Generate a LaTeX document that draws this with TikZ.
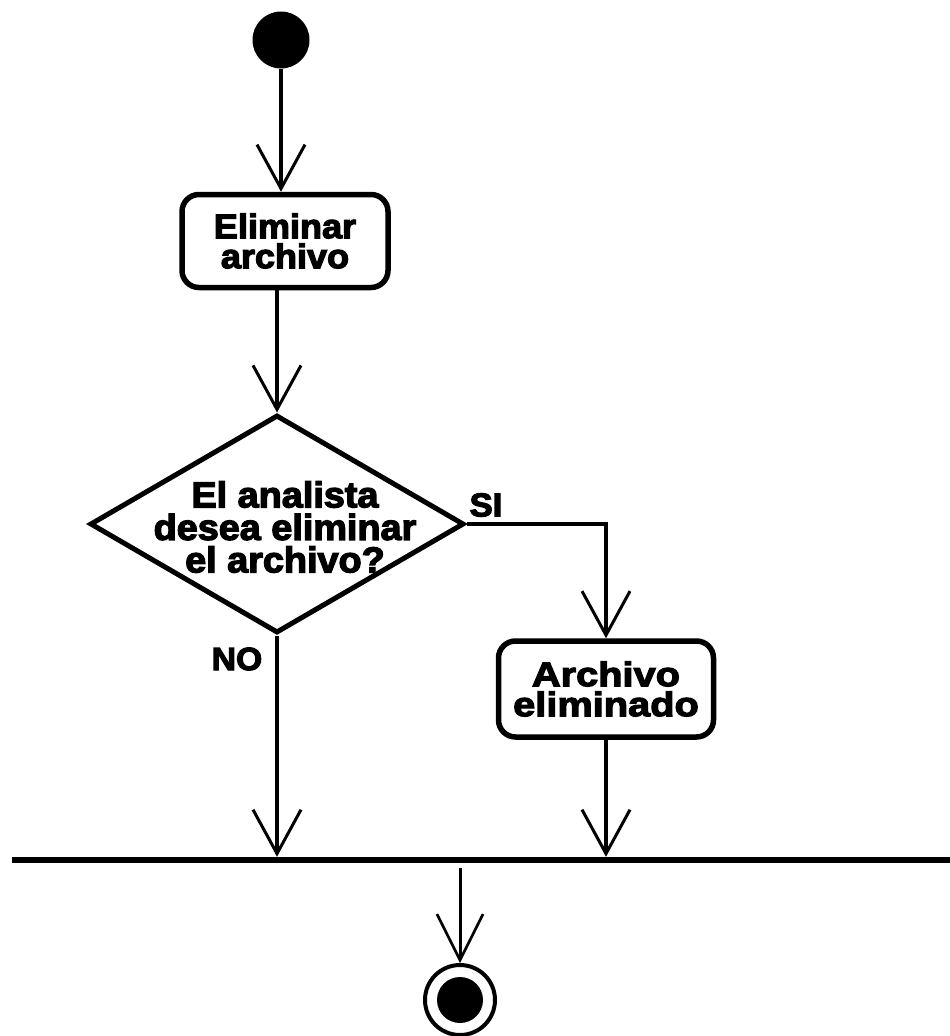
\documentclass[tikz,border=0pt]{standalone}
\usepackage{fontspec}
\setmainfont{Liberation Sans}[FakeBold=3.6,FakeStretch=1.05]
\newfontfamily\elimfont{Liberation Sans}[FakeBold=3.6,FakeStretch=1.06]
\newfontfamily\archfont{Liberation Sans}[FakeBold=3.6,FakeStretch=1.17]
\usetikzlibrary{arrows.meta,shapes.geometric}
\begin{document}
\begin{tikzpicture}[x=1pt,y=-1pt,
  every node/.style={font=\bfseries\fontsize{36}{32.5}\selectfont, align=center},
  boxtext/.style={font=\bfseries\fontsize{34}{30}\selectfont},
  actbox/.style={draw, line width=5.5pt, rounded corners=17pt, inner sep=0pt, boxtext},
  decision/.style={draw, diamond, line width=5pt, inner sep=0pt, minimum width=374pt, minimum height=218pt},
  flow/.style={line width=4.2pt, -{Straight Barb[length=44pt,width=48pt,line width=3pt]}},
  thinflow/.style={line width=3pt, -{Straight Barb[length=46pt,width=46pt,line width=2.6pt]}}
]
  \useasboundingbox (0,0) rectangle (950,1036);
  \fill[white] (0,0) rectangle (950,1036);

  % initial and final states
  \node[circle, fill=black, inner sep=0pt, minimum size=57pt] (start) at (281,40) {};
  \node[circle, draw, line width=4pt, inner sep=0pt, minimum size=70pt] (stop) at (460,1000) {};
  \fill (stop.center) circle (23pt);

  % actions
  \node[actbox, minimum width=206pt, minimum height=93pt] (elim) at (285,241) {\elimfont Eliminar\\\elimfont archivo};
  \node[actbox, minimum width=215pt, minimum height=96pt] (arch) at (606,689) {\archfont Archivo\\\archfont eliminado};

  % decision
  \node[decision, label={[xshift=8pt,yshift=-3pt]center:El analista\\desea eliminar\\el archivo?}] (dec) at (277,524) {};

  % join bar
  \node[fill=black, inner sep=0pt, minimum width=938pt, minimum height=6pt] (bar) at (481,860) {};

  % guards
  \node[font=\bfseries\fontsize{33}{33}\selectfont] (si) at (486,505) {SI};
  \node[font=\bfseries\fontsize{32}{32}\selectfont] (no) at (237,659) {NO};

  % flows
  \draw[flow] (start) -- (start |- elim.north);
  \draw[flow] (elim.south -| dec.north) -- (dec.north);
  \draw[flow] (dec.east) -| (arch.north);
  \draw[flow] (dec.south) -- (dec.south |- bar.north);
  \draw[flow] (arch.south) -- (arch.south |- bar.north);
  \draw[thinflow, shorten <=5pt] (stop |- bar.south) -- (stop.north);
\end{tikzpicture}
\end{document}
